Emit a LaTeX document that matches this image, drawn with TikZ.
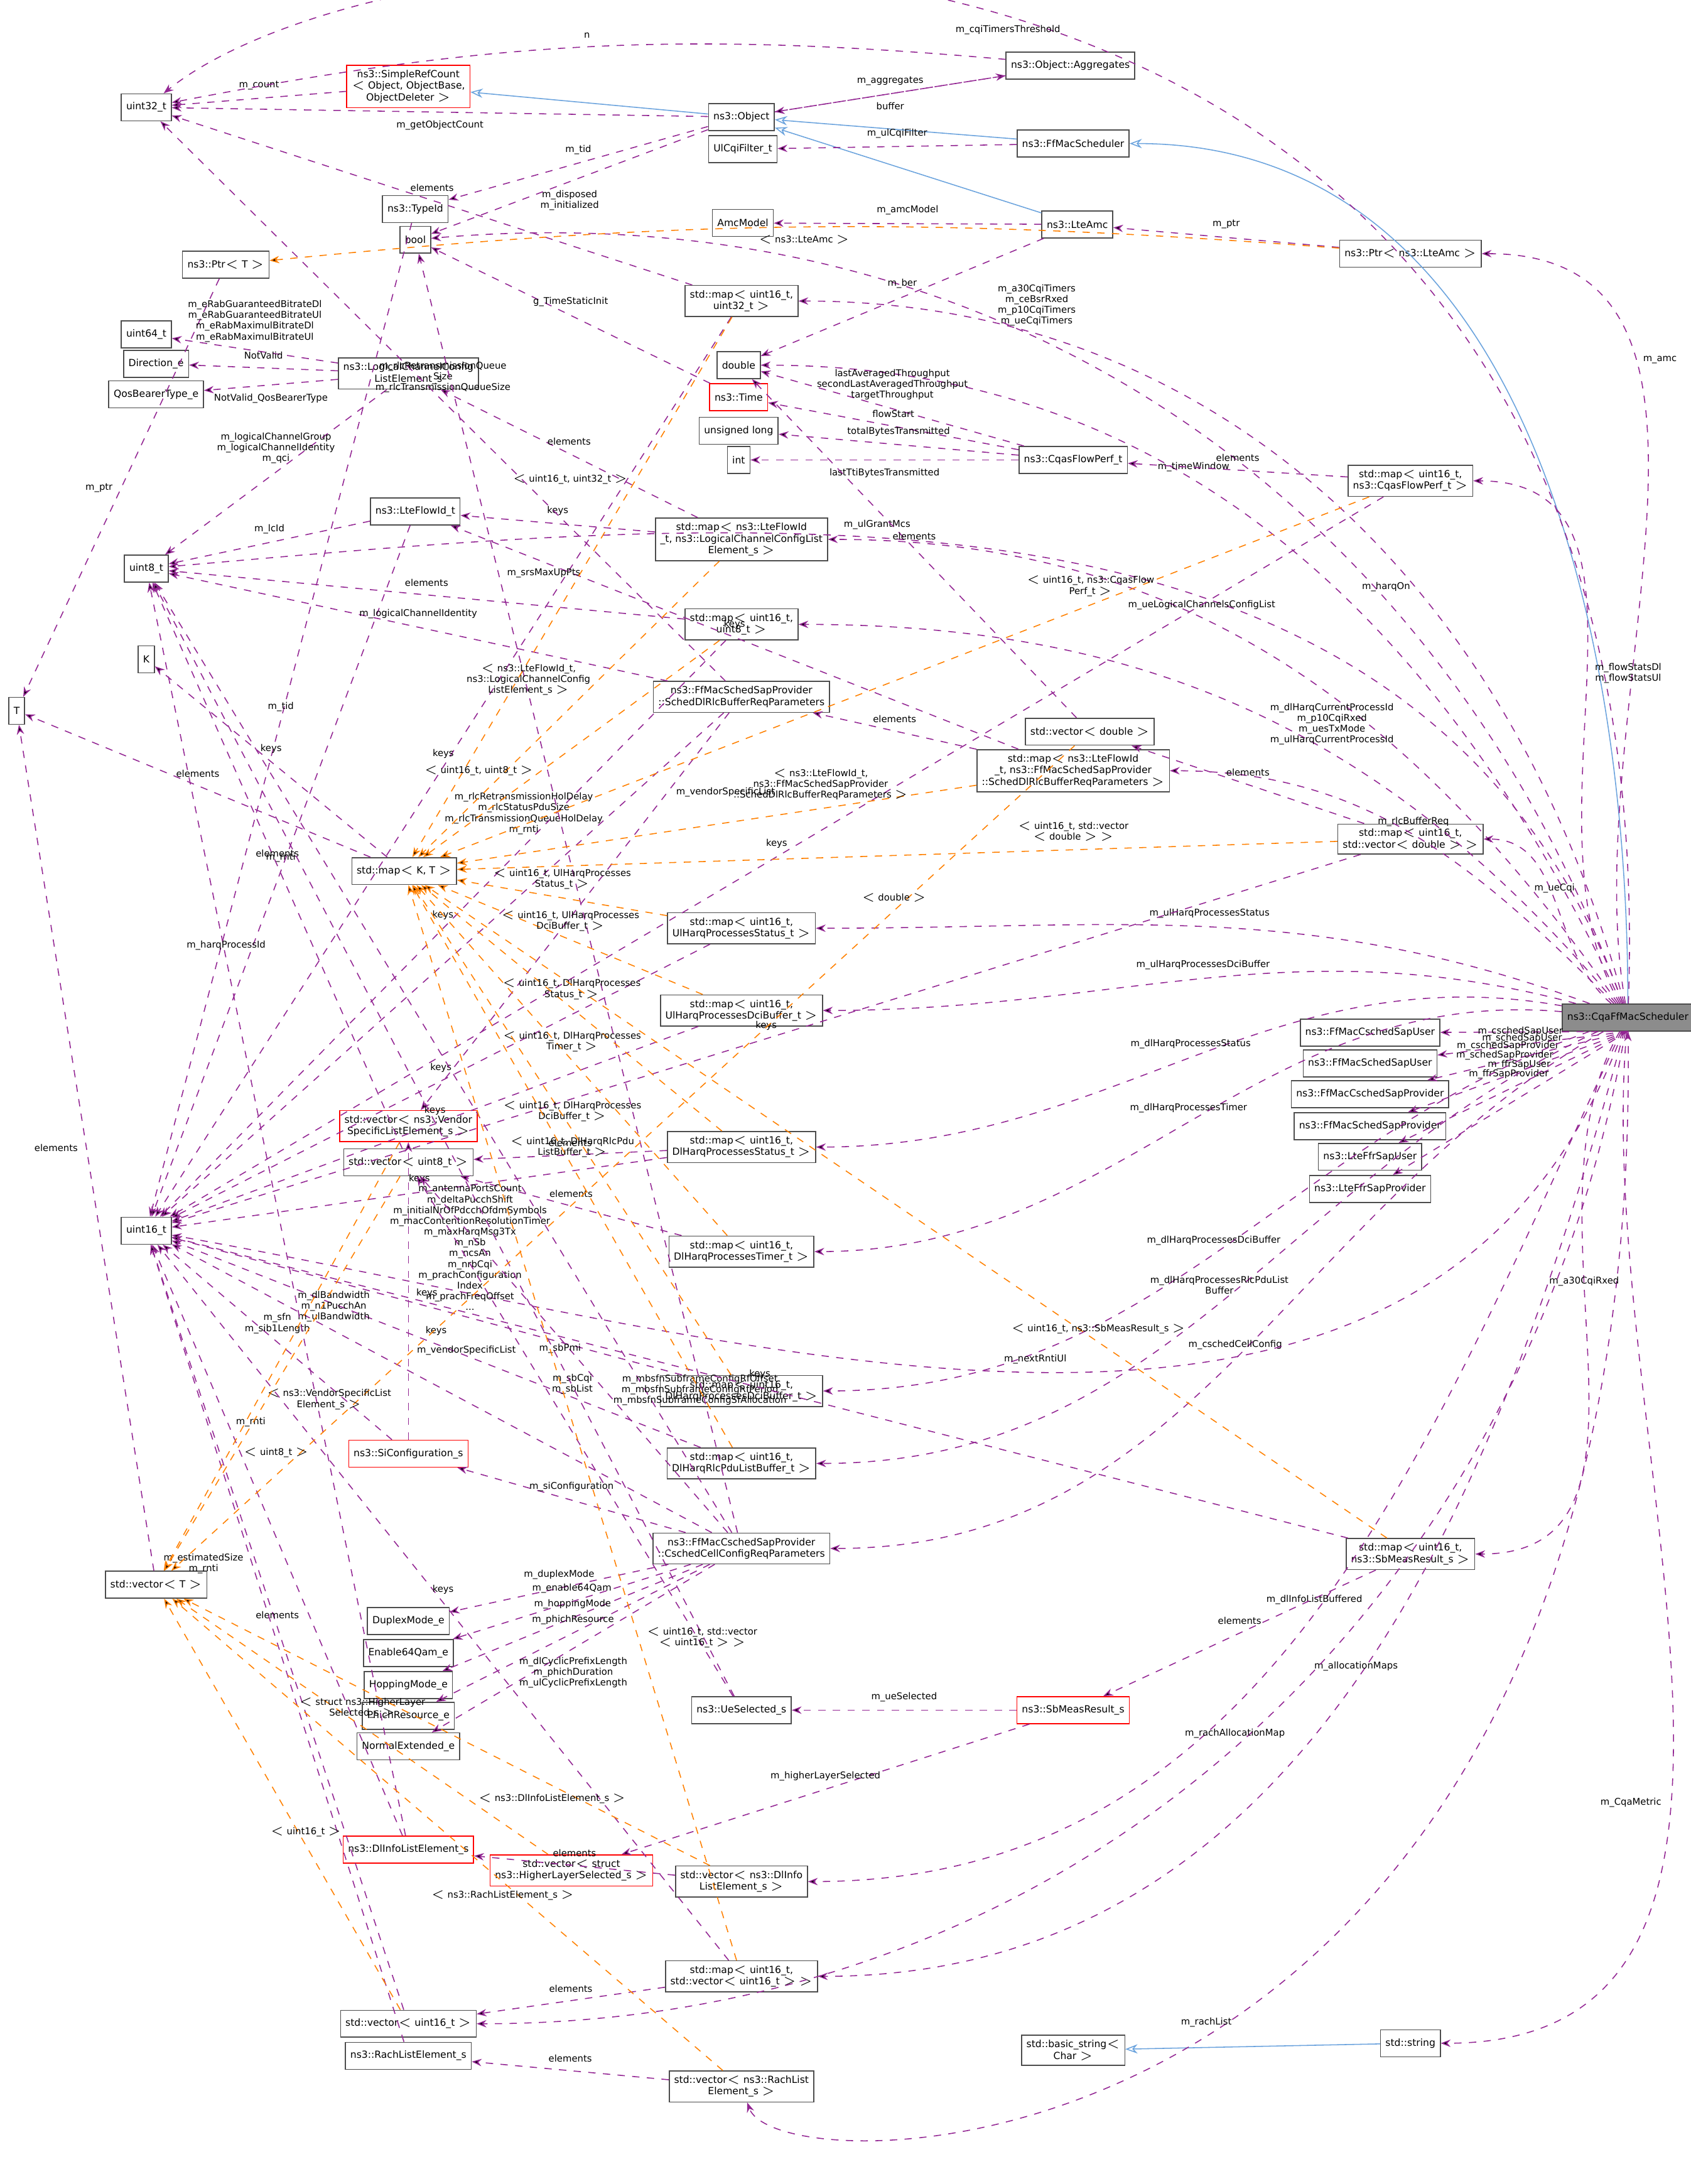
\documentclass[tikz,border=0pt]{standalone}
\usepackage{fontspec}
\setmainfont{DejaVu Sans}
\usetikzlibrary{arrows.meta,positioning}
\tikzset{
  cls/.style={draw=black!70,fill=white,font=\fontsize{4}{4.7}\selectfont,align=center,inner sep=2pt,minimum height=11},
  red/.style={cls,draw=red},
  mem/.style={draw=violet!85,dashed,-{Stealth[length=4pt]},font=\fontsize{3.8}{4.4}\selectfont,align=center},
  tpl/.style={draw=orange,dashed,-{Stealth[length=4pt]},font=\fontsize{3.8}{4.4}\selectfont,align=center},
  inh/.style={draw=cyan!60!blue!60,-{Stealth[open,length=5pt]}},
}
\begin{document}
\begin{tikzpicture}[x=0.2mm,y=-0.2mm]
\useasboundingbox (0,0) rectangle (1213,1567);

% left column
\node[cls] (u32) at (105,77) {uint32\_t};
\node[cls] (u64) at (105,240) {uint64\_t};
\node[cls] (dir) at (112,261) {Direction\_e};
\node[cls] (qos) at (112,283) {QosBearerType\_e};
\node[cls] (u8) at (105,408) {uint8\_t};
\node[cls] (K) at (105,473) {K};
\node[cls] (T) at (12,510) {T};
\node[cls] (u16) at (105,883) {uint16\_t};
\node[cls] (vecT) at (112,1137) {std::vector$<$ T $>$};

% second column
\node[red] (src) at (293,62) {ns3::SimpleRefCount\\$<$ Object, ObjectBase,\\ObjectDeleter $>$};
\node[cls] (tid) at (298,150) {ns3::TypeId};
\node[cls] (bool) at (298,172) {bool};
\node[cls] (ptrT) at (162,190) {ns3::Ptr$<$ T $>$};
\node[cls] (lcc) at (293,268) {ns3::LogicalChannelConfig\\ListElement\_s};
\node[cls] (flow) at (298,367) {ns3::LteFlowId\_t};
\node[cls] (mapKT) at (290,625) {std::map$<$ K, T $>$};
\node[red] (vven) at (293,808) {std::vector$<$ ns3::Vendor\\SpecificListElement\_s $>$};
\node[cls] (vu8) at (293,834) {std::vector$<$ uint8\_t $>$};
\node[red] (sic) at (293,1043) {ns3::SiConfiguration\_s};
\node[cls] (dup) at (293,1163) {DuplexMode\_e};
\node[cls] (e64) at (293,1186) {Enable64Qam\_e};
\node[cls] (hop) at (293,1209) {HoppingMode\_e};
\node[cls] (phi) at (293,1231) {PhichResource\_e};
\node[cls] (nor) at (293,1253) {NormalExtended\_e};
\node[red] (dli) at (293,1327) {ns3::DlInfoListElement\_s};
\node[red] (vhl) at (410,1342) {std::vector$<$ struct\\ns3::HigherLayerSelected\_s $>$};
\node[cls] (vu16) at (293,1452) {std::vector$<$ uint16\_t $>$};
\node[cls] (rach) at (293,1475) {ns3::RachListElement\_s};

% third column
\node[cls] (obj) at (532,84) {ns3::Object};
\node[cls] (ulf) at (533,107) {UlCqiFilter\_t};
\node[cls] (amcm) at (533,160) {AmcModel};
\node[cls] (m1632) at (532,216) {std::map$<$ uint16\_t,\\uint32\_t $>$};
\node[cls] (dbl) at (530,262) {double};
\node[red] (time) at (530,285) {ns3::Time};
\node[cls] (ul) at (530,309) {unsigned long};
\node[cls] (int) at (530,330) {int};
\node[cls] (mflow) at (532,387) {std::map$<$ ns3::LteFlowId\\\_t, ns3::LogicalChannelConfigList\\Element\_s $>$};
\node[cls] (m168) at (532,448) {std::map$<$ uint16\_t,\\uint8\_t $>$};
\node[cls] (rlc) at (532,500) {ns3::FfMacSchedSapProvider\\::SchedDlRlcBufferReqParameters};
\node[cls] (mulst) at (532,666) {std::map$<$ uint16\_t,\\UlHarqProcessesStatus\_t $>$};
\node[cls] (muldci) at (532,725) {std::map$<$ uint16\_t,\\UlHarqProcessesDciBuffer\_t $>$};
\node[cls] (mdlst) at (532,823) {std::map$<$ uint16\_t,\\DlHarqProcessesStatus\_t $>$};
\node[cls] (mdltm) at (532,898) {std::map$<$ uint16\_t,\\DlHarqProcessesTimer\_t $>$};
\node[cls] (mdldci) at (532,998) {std::map$<$ uint16\_t,\\DlHarqProcessesDciBuffer\_t $>$};
\node[cls] (mdlrlc) at (532,1050) {std::map$<$ uint16\_t,\\DlHarqRlcPduListBuffer\_t $>$};
\node[cls] (csc) at (532,1111) {ns3::FfMacCschedSapProvider\\::CschedCellConfigReqParameters};
\node[cls] (ues) at (532,1227) {ns3::UeSelected\_s};
\node[cls] (vdli) at (532,1350) {std::vector$<$ ns3::DlInfo\\ListElement\_s $>$};
\node[cls] (mvu16) at (532,1418) {std::map$<$ uint16\_t,\\std::vector$<$ uint16\_t $>$ $>$};
\node[cls] (vrach) at (532,1497) {std::vector$<$ ns3::RachList\\Element\_s $>$};

% fourth column
\node[cls] (agg) at (768,47) {ns3::Object::Aggregates};
\node[cls] (ffm) at (770,103) {ns3::FfMacScheduler};
\node[cls] (amc) at (773,161) {ns3::LteAmc};
\node[cls] (cqas) at (770,330) {ns3::CqasFlowPerf\_t};
\node[cls] (vdbl) at (782,525) {std::vector$<$ double $>$};
\node[cls] (mrlc) at (770,553) {std::map$<$ ns3::LteFlowId\\\_t, ns3::FfMacSchedSapProvider\\::SchedDlRlcBufferReqParameters $>$};
\node[red] (sbm) at (770,1227) {ns3::SbMeasResult\_s};
\node[cls] (bstr) at (770,1471) {std::basic\_string$<$\\Char $>$};

% fifth column
\node[cls] (pamc) at (1012,182) {ns3::Ptr$<$ ns3::LteAmc $>$};
\node[cls] (mcqas) at (1012,345) {std::map$<$ uint16\_t,\\ns3::CqasFlowPerf\_t $>$};
\node[cls] (mvdbl) at (1012,602) {std::map$<$ uint16\_t,\\std::vector$<$ double $>$ $>$};
\node[cls] (csu) at (983,741) {ns3::FfMacCschedSapUser};
\node[cls] (ssu) at (983,763) {ns3::FfMacSchedSapUser};
\node[cls] (csp) at (983,785) {ns3::FfMacCschedSapProvider};
\node[cls] (ssp) at (983,808) {ns3::FfMacSchedSapProvider};
\node[cls] (fsu) at (983,830) {ns3::LteFfrSapUser};
\node[cls] (fsp) at (983,853) {ns3::LteFfrSapProvider};
\node[cls] (msb) at (1012,1115) {std::map$<$ uint16\_t,\\ns3::SbMeasResult\_s $>$};
\node[cls] (str) at (1012,1466) {std::string};
\node[cls,fill=black!45] (cqa) at (1168,730) {ns3::CqaFfMacScheduler};

% inheritance
\draw[inh] (cqa) to[out=90,in=0] (ffm);
\draw[inh] (ffm) -- (obj);
\draw[inh] (amc) -- (obj);
\draw[inh] (obj) -- (src);
\draw[inh] (str) -- (bstr);

% members of the scheduler
\draw[mem] (cqa) .. controls (1200,-150) and (300,-80) .. node[pos=0.5,below] {m\_cqiTimersThreshold} (u32);
\draw[mem] (cqa) .. controls (1180,1570) and (560,1575) .. node[pos=0.5,above] {m\_rachList} (vrach);
\path[mem] (cqa) edge[out=100,in=0] node[pos=0.7,right] {m\_amc} (pamc)
  (cqa) edge[out=105,in=0] node[pos=0.8,above] {m\_a30CqiTimers\\m\_ceBsrRxed\\m\_p10CqiTimers\\m\_ueCqiTimers} (m1632)
  (cqa) edge[out=110,in=5] node[pos=0.3,above] {m\_harqOn} (bool)
  (cqa) edge[out=110,in=5] node[pos=0.6,above] {m\_ulGrantMcs} (u8)
  (cqa) edge[out=115,in=0] node[pos=0.6,above] {m\_timeWindow} (dbl)
  (cqa) edge[out=120,in=0] node[pos=0.5,right] {m\_flowStatsDl\\m\_flowStatsUl} (mcqas)
  (cqa) edge[out=125,in=0] node[pos=0.6,above] {m\_ueLogicalChannelsConfigList} (mflow)
  (cqa) edge[out=130,in=0] node[pos=0.4,above] {m\_dlHarqCurrentProcessId\\m\_p10CqiRxed\\m\_uesTxMode\\m\_ulHarqCurrentProcessId} (m168)
  (cqa) edge[out=135,in=0] node[pos=0.5,above] {m\_rlcBufferReq} (mrlc)
  (cqa) edge[out=140,in=0] node[pos=0.5,above] {m\_ueCqi} (mvdbl)
  (cqa) edge[out=160,in=0] node[pos=0.5,above] {m\_ulHarqProcessesStatus} (mulst)
  (cqa) edge[out=165,in=0] node[pos=0.5,above] {m\_ulHarqProcessesDciBuffer} (muldci)
  (cqa) edge[out=170,in=0] node[pos=0.5,above] {m\_dlHarqProcessesStatus} (mdlst)
  (cqa) edge[out=175,in=0] node[pos=0.5,above] {m\_dlHarqProcessesTimer} (mdltm)
  (cqa.south) edge node[pos=0.3,left] {m\_cschedSapUser} (csu)
  (cqa.south) edge node[pos=0.3,left] {m\_schedSapUser} (ssu)
  (cqa.south) edge node[pos=0.3,left] {m\_cschedSapProvider} (csp)
  (cqa.south) edge node[pos=0.3,left] {m\_schedSapProvider} (ssp)
  (cqa.south) edge node[pos=0.3,left] {m\_ffrSapUser} (fsu)
  (cqa.south) edge node[pos=0.3,left] {m\_ffrSapProvider} (fsp)
  (cqa) edge[out=200,in=0] node[pos=0.5,above] {m\_dlHarqProcessesDciBuffer} (mdldci)
  (cqa) edge[out=205,in=0] node[pos=0.5,above] {m\_dlHarqProcessesRlcPduList\\Buffer} (mdlrlc)
  (cqa) edge[out=210,in=0] node[pos=0.5,above] {m\_cschedCellConfig} (csc)
  (cqa) edge[out=240,in=0] node[pos=0.4,above] {m\_a30CqiRxed} (msb)
  (cqa) edge[out=245,in=0] node[pos=0.5,above] {m\_dlInfoListBuffered} (vdli)
  (cqa) edge[out=250,in=-10] node[pos=0.5,above] {m\_nextRntiUl} (u16)
  (cqa) edge[out=255,in=0] node[pos=0.5,above] {m\_allocationMaps} (mvu16)
  (cqa) edge[out=260,in=0] node[pos=0.5,above] {m\_rachAllocationMap} (vu16)
  (cqa) edge[out=265,in=0] node[pos=0.6,left] {m\_CqaMetric} (str);

% other members
\path[mem] (src) edge node[above] {m\_count} (u32)
  (obj) edge node[below] {m\_getObjectCount} (u32)
  (obj) edge node[above] {m\_aggregates} (agg)
  (agg) edge[bend right=8] node[above] {n} (u32)
  (agg) edge node[below] {buffer} (obj)
  (obj) edge node[above] {m\_tid} (tid)
  (obj) edge node[below] {m\_disposed\\m\_initialized} (bool)
  (ffm) edge node[above] {m\_ulCqiFilter} (ulf)
  (amc) edge node[above] {m\_amcModel} (amcm)
  (amc) edge node[above] {m\_ber} (dbl)
  (pamc) edge node[above] {m\_ptr} (amc)
  (ptrT) edge node[left] {m\_ptr} (T)
  (tid) edge node[above] {m\_tid} (u16)
  (time) edge node[above] {g\_TimeStaticInit} (bool)
  (m1632) edge node[above] {elements} (u32)
  (m1632) edge node[above] {keys} (u16)
  (lcc) edge node[above] {m\_eRabGuaranteedBitrateDl\\m\_eRabGuaranteedBitrateUl\\m\_eRabMaximulBitrateDl\\m\_eRabMaximulBitrateUl} (u64)
  (lcc) edge node[above] {NotValid} (dir)
  (lcc) edge node[below] {NotValid\_QosBearerType} (qos)
  (lcc) edge node[above] {m\_logicalChannelGroup\\m\_logicalChannelIdentity\\m\_qci} (u8)
  (cqas) edge node[above] {lastAveragedThroughput\\secondLastAveragedThroughput\\targetThroughput} (dbl)
  (cqas) edge node[above] {flowStart} (time)
  (cqas) edge node[above] {totalBytesTransmitted} (ul)
  (cqas) edge node[below] {lastTtiBytesTransmitted} (int)
  (mcqas) edge node[above] {elements} (cqas)
  (mcqas) edge node[above] {keys} (u16)
  (flow) edge node[above] {m\_lcId} (u8)
  (flow) edge node[above] {m\_rnti} (u16)
  (mflow) edge node[above] {keys} (flow)
  (mflow) edge node[above] {elements} (lcc)
  (m168) edge node[above] {elements} (u8)
  (m168) edge node[above] {keys} (u16)
  (rlc) edge node[above] {m\_logicalChannelIdentity} (u8)
  (rlc) edge node[above] {m\_rlcRetransmissionQueue\\Size\\m\_rlcTransmissionQueueSize} (u32)
  (rlc) edge node[pos=0.2,left] {m\_rlcRetransmissionHolDelay\\m\_rlcStatusPduSize\\m\_rlcTransmissionQueueHolDelay\\m\_rnti} (u16)
  (rlc) edge node[pos=0.2,right] {m\_vendorSpecificList} (vven)
  (vdbl) edge node[above] {elements} (dbl)
  (mrlc) edge node[above] {elements} (rlc)
  (mrlc) edge node[above] {keys} (flow)
  (mvdbl) edge node[above] {elements} (vdbl)
  (mvdbl) edge node[above] {keys} (u16)
  (mapKT) edge node[above] {keys} (K)
  (mapKT) edge node[above] {elements} (T)
  (mulst) edge node[above] {keys} (u16)
  (muldci) edge node[above] {keys} (u16)
  (mdlst) edge node[above] {elements} (vu8)
  (mdlst) edge node[above] {keys} (u16)
  (mdltm) edge node[above] {elements} (vu8)
  (mdldci) edge node[above] {keys} (u16)
  (mdlrlc) edge node[above] {keys} (u16)
  (vecT) edge node[left] {elements} (T)
  (vu8) edge node[above] {elements} (u8)
  (sic) edge node[above] {m\_sfn\\m\_sib1Length} (u16)
  (sic) edge node[pos=0.3,right] {m\_vendorSpecificList} (vven)
  (csc) edge node[above] {m\_siConfiguration} (sic)
  (csc) edge node[above] {m\_duplexMode} (dup)
  (csc) edge node[above] {m\_enable64Qam} (e64)
  (csc) edge node[above] {m\_hoppingMode} (hop)
  (csc) edge node[above] {m\_phichResource} (phi)
  (csc) edge node[below] {m\_dlCyclicPrefixLength\\m\_phichDuration\\m\_ulCyclicPrefixLength} (nor)
  (csc) edge node[pos=0.7,above] {m\_dlBandwidth\\m\_n1PucchAn\\m\_ulBandwidth} (u16)
  (csc) edge node[pos=0.3,left] {m\_antennaPortsCount\\m\_deltaPucchShift\\m\_initialNrOfPdcchOfdmSymbols\\m\_macContentionResolutionTimer\\m\_maxHarqMsg3Tx\\m\_nSb\\m\_ncsAn\\m\_nrbCqi\\m\_prachConfiguration\\Index\\m\_prachFreqOffset\\...} (u8)
  (csc) edge node[pos=0.4,right] {m\_mbsfnSubframeConfigRfOffset\\m\_mbsfnSubframeConfigRfPeriod\\m\_mbsfnSubframeConfigSfAllocation} (vu8)
  (csc) edge node[pos=0.75,right] {m\_srsMaxUpPts} (bool)
  (ues) edge node[pos=0.6,right] {m\_sbCqi\\m\_sbList} (vu8)
  (ues) edge node[pos=0.3,above] {m\_sbPmi} (u8)
  (sbm) edge node[above] {m\_ueSelected} (ues)
  (sbm) edge node[above] {m\_higherLayerSelected} (vhl)
  (msb) edge node[above] {elements} (sbm)
  (msb) edge node[above] {keys} (u16)
  (dli) edge node[pos=0.7,above] {m\_harqProcessId} (u8)
  (dli) edge node[pos=0.7,right] {m\_rnti} (u16)
  (vdli) edge node[above] {elements} (dli)
  (mvu16) edge node[above] {elements} (vu16)
  (mvu16) edge node[above] {keys} (u16)
  (vu16) edge node[above] {elements} (u16)
  (rach) edge node[pos=0.6,left] {m\_estimatedSize\\m\_rnti} (u16)
  (vrach) edge node[above] {elements} (rach);

% template instances
\path[tpl] (pamc) edge[bend right=5] node[below] {$<$ ns3::LteAmc $>$} (ptrT)
  (m1632) edge node[pos=0.3,left] {$<$ uint16\_t, uint32\_t $>$} (mapKT)
  (mcqas) edge node[pos=0.3,above] {$<$ uint16\_t, ns3::CqasFlow\\Perf\_t $>$} (mapKT)
  (mflow) edge node[pos=0.4,left] {$<$ ns3::LteFlowId\_t,\\ns3::LogicalChannelConfig\\ListElement\_s $>$} (mapKT)
  (m168) edge node[pos=0.6,left] {$<$ uint16\_t, uint8\_t $>$} (mapKT)
  (mrlc) edge node[pos=0.3,above] {$<$ ns3::LteFlowId\_t,\\ns3::FfMacSchedSapProvider\\::SchedDlRlcBufferReqParameters $>$} (mapKT)
  (mvdbl) edge node[pos=0.3,above] {$<$ uint16\_t, std::vector\\$<$ double $>$ $>$} (mapKT)
  (vdbl) edge node[pos=0.2,above] {$<$ double $>$} (vecT)
  (mulst) edge node[pos=0.5,above] {$<$ uint16\_t, UlHarqProcesses\\Status\_t $>$} (mapKT)
  (muldci) edge node[pos=0.5,above] {$<$ uint16\_t, UlHarqProcesses\\DciBuffer\_t $>$} (mapKT)
  (mdlst) edge node[pos=0.5,above] {$<$ uint16\_t, DlHarqProcesses\\Status\_t $>$} (mapKT)
  (mdltm) edge node[pos=0.5,above] {$<$ uint16\_t, DlHarqProcesses\\Timer\_t $>$} (mapKT)
  (mdldci) edge node[pos=0.5,above] {$<$ uint16\_t, DlHarqProcesses\\DciBuffer\_t $>$} (mapKT)
  (mdlrlc) edge node[pos=0.5,above] {$<$ uint16\_t, DlHarqRlcPdu\\ListBuffer\_t $>$} (mapKT)
  (msb) edge node[pos=0.3,above] {$<$ uint16\_t, ns3::SbMeasResult\_s $>$} (mapKT)
  (mvu16) edge node[pos=0.3,right] {$<$ uint16\_t, std::vector\\$<$ uint16\_t $>$ $>$} (mapKT)
  (vven) edge node[pos=0.6,right] {$<$ ns3::VendorSpecificList\\Element\_s $>$} (vecT)
  (vu8) edge node[pos=0.7,right] {$<$ uint8\_t $>$} (vecT)
  (vhl) edge node[pos=0.5,above] {$<$ struct ns3::HigherLayer\\Selected\_s $>$} (vecT)
  (vdli) edge node[pos=0.3,below] {$<$ ns3::DlInfoListElement\_s $>$} (vecT)
  (vu16) edge node[pos=0.4,above] {$<$ uint16\_t $>$} (vecT)
  (vrach) edge node[pos=0.4,below] {$<$ ns3::RachListElement\_s $>$} (vecT);
\end{tikzpicture}
\end{document}
